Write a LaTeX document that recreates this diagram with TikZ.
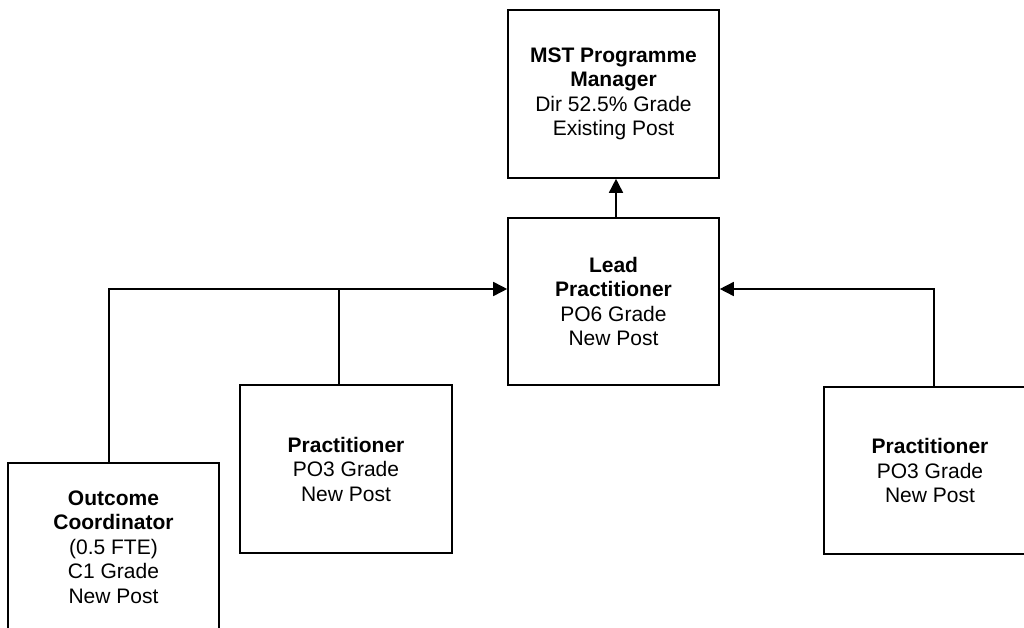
\documentclass[tikz,border=0pt]{standalone}
\usepackage{fontspec}
\setmainfont{Liberation Sans}
\usetikzlibrary{arrows.meta}
\begin{document}
\begin{tikzpicture}[x=1pt,y=-1pt,
  box/.style={draw, line width=1.6pt, rectangle, align=center, inner sep=0pt,
    font=\fontsize{21}{24.5}\selectfont},
  conn/.style={line width=1.6pt},
  arr/.style={conn, -{Triangle[length=14pt,width=14pt]}}]
\clip (0,0) rectangle (1024,628);
\fill[white] (0,0) rectangle (1024,628);
\node[box, minimum width=211pt, minimum height=168pt] (mst) at (613.5,94)
  {\textbf{MST Programme}\\\textbf{Manager}\\Dir 52.5\% Grade\\Existing Post};
\node[box, minimum width=211pt, minimum height=167pt] (lead) at (613.5,301.5)
  {\textbf{Lead}\\\textbf{Practitioner}\\PO6 Grade\\New Post};
\node[box, minimum width=212pt, minimum height=168pt] (p1) at (346,469)
  {\textbf{Practitioner}\\PO3 Grade\\New Post};
\node[box, minimum width=212pt, minimum height=167pt] (p2) at (930,470.5)
  {\textbf{Practitioner}\\PO3 Grade\\New Post};
\node[box, minimum width=211pt, minimum height=168pt] (oc) at (113.5,547)
  {\textbf{Outcome}\\\textbf{Coordinator}\\(0.5 FTE)\\C1 Grade\\New Post};
\coordinate (la) at ([yshift=12.5pt]lead.west);
\coordinate (ra) at ([yshift=12.5pt]lead.east);
\draw[arr] ([xshift=2.5pt]lead.north) -- ([xshift=2.5pt]mst.south);
\draw[arr] ([xshift=-4.5pt]oc.north) |- (la);
\draw[conn] ([xshift=-7pt]p1.north) -- ([xshift=-7pt]p1.north |- la);
\draw[arr] ([xshift=4pt]p2.north) |- (ra);
\end{tikzpicture}
\end{document}
